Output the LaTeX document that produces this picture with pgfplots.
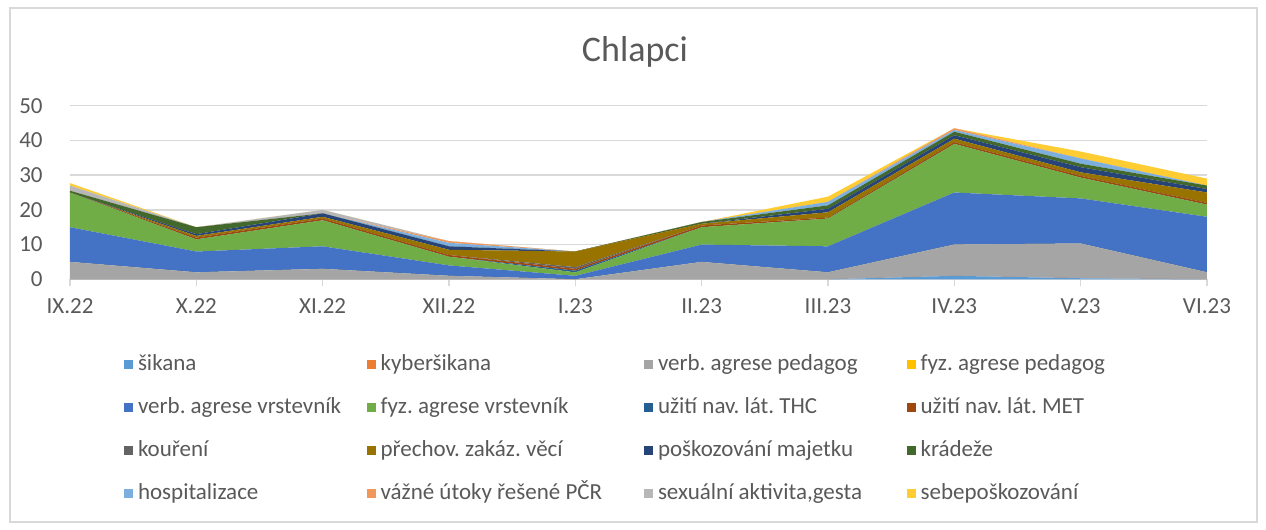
\documentclass[border=0pt]{standalone}
\usepackage{pgfplots}
\pgfplotsset{compat=1.18}
\usepackage{pgfplotstable}
\usepackage{fontspec}
\setmainfont{Carlito}
\frenchspacing

\definecolor{txt}{HTML}{595959}
\definecolor{gridc}{HTML}{D9D9D9}
\definecolor{framec}{HTML}{D9D9D9}
\definecolor{c1}{HTML}{5B9BD5}
\definecolor{c2}{HTML}{ED7D31}
\definecolor{c3}{HTML}{A5A5A5}
\definecolor{c4}{HTML}{FFC000}
\definecolor{c5}{HTML}{4472C4}
\definecolor{c6}{HTML}{70AD47}
\definecolor{c7}{HTML}{255E91}
\definecolor{c8}{HTML}{9E480E}
\definecolor{c9}{HTML}{636363}
\definecolor{c10}{HTML}{997300}
\definecolor{c11}{HTML}{264478}
\definecolor{c12}{HTML}{43682B}
\definecolor{c13}{HTML}{7CAFDD}
\definecolor{c14}{HTML}{F1975A}
\definecolor{c15}{HTML}{B7B7B7}
\definecolor{c16}{HTML}{FFCD33}

\pgfplotstableread{
x sik kyb vped fped vvr fvr thc met kou pre pos kra hos vaz sex seb
0 0   0   5    0    10  10  0   0   0   0   0   0.5 0   0   1.5 0.7
1 0   0   2    0    6   3.5 0   0.5 0   0.5 0.5 2   0   0   0   0
2 0   0   3    0    6.5 7.5 0   0.5 0   0.5 1   0   0   0   1   0
3 0   0   1    0    3   2.5 0   0.5 0   1.5 1   0   1   0.5 0   0
4 0   0   0    0    1   1   0.5 0.5 0.5 4.5 0   0   0   0   0   0
5 0   0   5    0    5   5   0   0.5 0   0.5 0   0.5 0   0   0   0
6 0   0   2    0    7.5 8   0   0.3 0   1.5 1   1   1   0   0   1.5
7 1   0   9    0    15  14  0   0.5 0   1   1   1   0.5 0.5 0   0
8 0.3 0   10   0    13  6   0   0.5 0   1   1.5 1   1.5 0   0   2
9 0   0   2    0    16  3.5 0   0.5 0   3   1   1   0   0   0   2
}\data

\begin{document}
\begin{tikzpicture}
\path (-35pt,-125.35pt) rectangle (598pt,139.65pt);
\draw[framec, line width=0.6pt] (-30pt,-121.35pt) rectangle (593.5pt,135.65pt);
\begin{axis}[
  at={(0,0)}, anchor=south west,
  scale only axis, width=568.5pt, height=86.8pt,
  xmin=0, xmax=9, ymin=0, ymax=50,
  stack plots=y,
  axis x line*=bottom, axis y line*=left,
  x axis line style={draw=gridc, line width=0.75pt, -},
  y axis line style={draw=none},
  ymajorgrids, grid style={gridc, line width=0.75pt},
  xtick={0,...,9},
  xticklabels={IX.22,X.22,XI.22,XII.22,I.23,II.23,III.23,IV.23,V.23,VI.23},
  ytick={0,10,...,50},
  tick align=outside,
  xtick style={draw=gridc, line width=0.75pt},
  ytick style={draw=none},
  major tick length=3.5pt,
  tick label style={font=\fontsize{11.5}{13}\selectfont, text=txt, inner sep=0pt},
  /pgf/number format/assume math mode=true,
  xticklabel style={anchor=north, yshift=-6pt},
  yticklabel style={anchor=east, xshift=-10pt},
  legend columns=4,
  legend style={at={(axis description cs:0.0475,-0.4326)}, anchor=north west,
    draw=none, fill=none, inner sep=0pt, outer sep=0pt,
    row sep=11pt, column sep=0pt,
    nodes={inner sep=0pt, text height=8pt, text depth=2.5pt, text=txt,
      font=\fontsize{11.5}{13}\selectfont}},
  legend cell align=left,
  legend image code/.code={\fill[#1] (0pt,-2.25pt) rectangle (4.5pt,2.25pt);},
]
\addplot[fill=c1, draw=none] table[x=x,y=sik]{\data} \closedcycle;
\addlegendentry{\hspace{2.5pt}\makebox[114.3pt][l]{šikana}}
\addplot[fill=c2, draw=none] table[x=x,y=kyb]{\data} \closedcycle;
\addlegendentry{\hspace{2.5pt}\makebox[131.7pt][l]{kyberšikana}}
\addplot[fill=c3, draw=none] table[x=x,y=vped]{\data} \closedcycle;
\addlegendentry{\hspace{2.5pt}\makebox[124.3pt][l]{verb. agrese pedagog}}
\addplot[fill=c4, draw=none] table[x=x,y=fped]{\data} \closedcycle;
\addlegendentry{\hspace{2.5pt}\makebox[100pt][l]{fyz. agrese pedagog}}
\addplot[fill=c5, draw=none] table[x=x,y=vvr]{\data} \closedcycle;
\addlegendentry{\hspace{2.5pt}\makebox[114.3pt][l]{verb. agrese vrstevník}}
\addplot[fill=c6, draw=none] table[x=x,y=fvr]{\data} \closedcycle;
\addlegendentry{\hspace{2.5pt}\makebox[131.7pt][l]{fyz. agrese vrstevník}}
\addplot[fill=c7, draw=none] table[x=x,y=thc]{\data} \closedcycle;
\addlegendentry{\hspace{2.5pt}\makebox[124.3pt][l]{užití nav. lát. THC}}
\addplot[fill=c8, draw=none] table[x=x,y=met]{\data} \closedcycle;
\addlegendentry{\hspace{2.5pt}\makebox[100pt][l]{užití nav. lát. MET}}
\addplot[fill=c9, draw=none] table[x=x,y=kou]{\data} \closedcycle;
\addlegendentry{\hspace{2.5pt}\makebox[114.3pt][l]{kouření}}
\addplot[fill=c10, draw=none] table[x=x,y=pre]{\data} \closedcycle;
\addlegendentry{\hspace{2.5pt}\makebox[131.7pt][l]{přechov. zakáz. věcí}}
\addplot[fill=c11, draw=none] table[x=x,y=pos]{\data} \closedcycle;
\addlegendentry{\hspace{2.5pt}\makebox[124.3pt][l]{poškozování majetku}}
\addplot[fill=c12, draw=none] table[x=x,y=kra]{\data} \closedcycle;
\addlegendentry{\hspace{2.5pt}\makebox[100pt][l]{krádeže}}
\addplot[fill=c13, draw=none] table[x=x,y=hos]{\data} \closedcycle;
\addlegendentry{\hspace{2.5pt}\makebox[114.3pt][l]{hospitalizace}}
\addplot[fill=c14, draw=none] table[x=x,y=vaz]{\data} \closedcycle;
\addlegendentry{\hspace{2.5pt}\makebox[131.7pt][l]{vážné útoky řešené PČR}}
\addplot[fill=c15, draw=none] table[x=x,y=sex]{\data} \closedcycle;
\addlegendentry{\hspace{2.5pt}\makebox[124.3pt][l]{sexuální aktivita,gesta}}
\addplot[fill=c16, draw=none] table[x=x,y=seb]{\data} \closedcycle;
\addlegendentry{\hspace{2.5pt}\makebox[100pt][l]{sebepoškozování}}
\end{axis}
\node[anchor=base, text=txt, font=\fontsize{18}{20}\selectfont] at (282.5pt,108.65pt) {Chlapci};
\end{tikzpicture}
\end{document}
